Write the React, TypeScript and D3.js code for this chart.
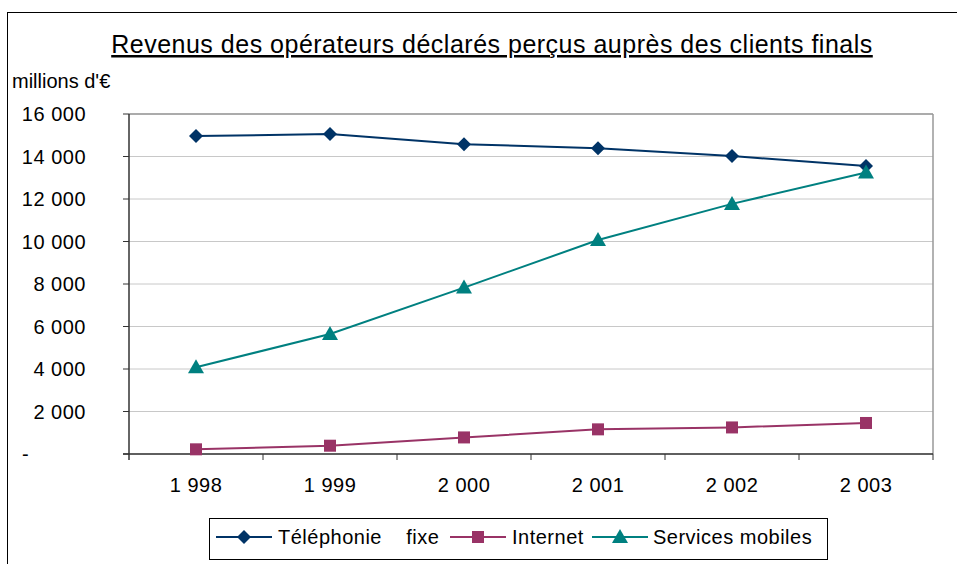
import React from "react";
import * as d3 from "d3";

const years = ["1 998", "1 999", "2 000", "2 001", "2 002", "2 003"];
const telephonieFixe = [14960, 15060, 14580, 14390, 14020, 13550];
const internet = [220, 390, 780, 1160, 1250, 1460];
const servicesMobiles = [4080, 5650, 7830, 10070, 11770, 13250];
const yTicks = [0, 2000, 4000, 6000, 8000, 10000, 12000, 14000, 16000];
const yTickLabels = ["-", "2 000", "4 000", "6 000", "8 000", "10 000", "12 000", "14 000", "16 000"];

const W = 957, H = 564;
const M = { left: 129, right: 933, top: 114, bottom: 454 };
const FONT = "'Liberation Sans', Arial, sans-serif";

const series = [
  { name: "Téléphonie    fixe", values: telephonieFixe, color: "#003366", marker: "diamond" },
  { name: "Internet", values: internet, color: "#993366", marker: "square" },
  { name: "Services mobiles", values: servicesMobiles, color: "#008080", marker: "triangle" },
];

function Marker({ type, x, y, color }: { type: string; x: number; y: number; color: string }) {
  if (type === "diamond") {
    const s = 7;
    return <path d={`M${x},${y - s}L${x + s},${y}L${x},${y + s}L${x - s},${y}Z`} fill={color} />;
  }
  if (type === "square") {
    const s = 6;
    return <rect x={x - s} y={y - s} width={2 * s} height={2 * s} fill={color} />;
  }
  const s = 7;
  return <path d={`M${x},${y - s - 1}L${x + s + 1},${y + s - 1}L${x - s - 1},${y + s - 1}Z`} fill={color} />;
}

export default function App() {
  const x = d3.scaleBand<string>().domain(years).range([M.left, M.right]);
  const y = d3.scaleLinear().domain([0, 16000]).range([M.bottom, M.top]);
  const cx = (i: number) => (x(years[i]) as number) + x.bandwidth() / 2;
  const line = d3.line<number>().x((_, i) => cx(i)).y((v) => y(v));

  const legendItems = [
    { lx: 216, tx: 278 },
    { lx: 450, tx: 512 },
    { lx: 592, tx: 653 },
  ];
  const txt = { fontFamily: FONT, fontSize: 20, letterSpacing: 0.5, fill: "#000" };

  return (
    <svg width={W} height={H} style={{ position: "absolute", left: 0, top: 0, background: "#fff" }}>
      <rect x={7.5} y={12.5} width={W + 20} height={H + 20} fill="#fff" stroke="#000" strokeWidth={1} />
      <text x={492} y={53} textAnchor="middle" fontFamily={FONT} fontSize={25} letterSpacing={0.5} textDecoration="underline" fill="#000">
        Revenus des opérateurs déclarés perçus auprès des clients finals
      </text>
      <text x={12} y={88} fontFamily={FONT} fontSize={20} fill="#000">millions d'€</text>

      {yTicks.map((t) => (
        <line key={"g" + t} x1={M.left} x2={M.right} y1={y(t)} y2={y(t)} stroke="#c8c8c8" strokeWidth={1} />
      ))}
      <line x1={M.left} x2={M.right} y1={M.top} y2={M.top} stroke="#999" strokeWidth={1.5} />
      <line x1={M.right} x2={M.right} y1={M.top} y2={M.bottom} stroke="#999" strokeWidth={1.5} />
      <line x1={M.left} x2={M.left} y1={M.top} y2={M.bottom + 6} stroke="#333" strokeWidth={1.5} />
      <line x1={M.left - 6} x2={M.right} y1={M.bottom} y2={M.bottom} stroke="#333" strokeWidth={1.5} />
      {yTicks.map((t, i) => (
        <g key={"t" + t}>
          <line x1={M.left - 6} x2={M.left} y1={y(t)} y2={y(t)} stroke="#333" strokeWidth={1} />
          <text x={i === 0 ? 22 : 86} y={y(t) + 7} textAnchor={i === 0 ? "start" : "end"} {...txt}>
            {yTickLabels[i]}
          </text>
        </g>
      ))}
      {years.map((yr, i) => (
        <g key={yr}>
          <line x1={(x(yr) as number) + x.bandwidth()} x2={(x(yr) as number) + x.bandwidth()} y1={M.bottom} y2={M.bottom + 6} stroke="#333" strokeWidth={1} />
          <text x={cx(i)} y={492} textAnchor="middle" {...txt}>{yr}</text>
        </g>
      ))}
      {series.map((s) => (
        <g key={s.name}>
          <path d={line(s.values) as string} fill="none" stroke={s.color} strokeWidth={2} />
          {s.values.map((v, i) => (
            <Marker key={i} type={s.marker} x={cx(i)} y={y(v)} color={s.color} />
          ))}
        </g>
      ))}

      <rect x={209.5} y={518.5} width={618} height={41} fill="#fff" stroke="#000" strokeWidth={1} />
      {series.map((s, i) => (
        <g key={"l" + s.name}>
          <line x1={legendItems[i].lx} x2={legendItems[i].lx + 56} y1={537} y2={537} stroke={s.color} strokeWidth={2} />
          <Marker type={s.marker} x={legendItems[i].lx + 28} y={537} color={s.color} />
          <text x={legendItems[i].tx} y={544} {...txt} style={{ whiteSpace: "pre" }}>
            {s.name}
          </text>
        </g>
      ))}
    </svg>
  );
}
